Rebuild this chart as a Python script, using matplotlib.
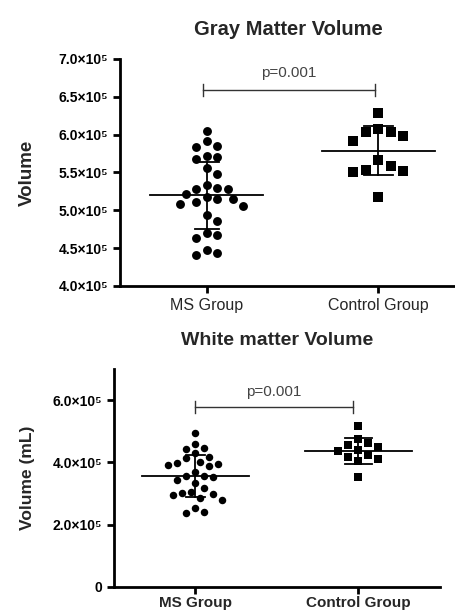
import numpy as np
import matplotlib
matplotlib.use("Agg")
from matplotlib import pyplot as plt

plt.rcParams['font.family'] = ['Liberation Sans', 'DejaVu Sans']

# данные (в единицах 1e5)
groups = ['MS Group', 'Control Group']
gm_ms = [6.05, 5.91, 5.85, 5.84, 5.72, 5.68, 5.71, 5.56, 5.48, 5.33, 5.28, 5.28, 5.30, 5.22,
         5.18, 5.15, 5.09, 5.06, 5.11, 5.15, 4.94, 4.86, 4.67, 4.64, 4.70, 4.48, 4.41, 4.43]
gm_ctrl = [6.28, 6.08, 6.03, 5.98, 6.03, 5.92, 5.66, 5.58, 5.52, 5.53, 5.51, 5.18]
gm_mean = [5.20, 5.79]
gm_sd = [0.445, 0.327]

wm_ms = [4.95, 4.59, 4.43, 4.29, 4.45, 4.18, 4.14, 4.01, 3.95, 3.89, 3.91, 3.98, 3.70, 3.57,
         3.55, 3.52, 3.42, 3.33, 3.18, 3.02, 2.99, 2.85, 2.78, 2.94, 3.05, 2.52, 2.36, 2.41]
wm_ctrl = [5.16, 4.75, 4.63, 4.50, 4.55, 4.35, 4.40, 4.22, 4.12, 4.05, 4.17, 3.53]
wm_mean = [3.57, 4.36]
wm_sd = [0.68, 0.43]

p_text = 'p=0.001'
SCALE = 1e5
TXT = '#262626'


def swarm_offsets(ax, x0, values, diam):
    # раскладка точек "рой" в пикселях, возвращаем смещения по x в единицах оси
    pts = ax.transData.transform([(x0, v) for v in values])
    xpx = ax.transData.transform([(x0 + 1, 0)])[0][0] - ax.transData.transform([(x0, 0)])[0][0]
    ys = pts[:, 1]
    step = diam * 0.5
    cands = [0.0]
    for n in range(1, 30):
        cands += [n * step, -n * step]
    placed = []
    offs = np.zeros(len(values))
    for i in np.argsort(-ys):
        for c in cands:
            if all((c - px) ** 2 + (ys[i] - py) ** 2 >= diam ** 2 for px, py in placed):
                break
        placed.append((c, ys[i]))
        offs[i] = c / xpx
    return offs


def panel(ax, ms, ctrl, mean, sd, sizes, caps, ptxt_y, br_y, br_cap, br_x):
    for i, (vals, mk, ms_size, diam) in enumerate([(ms, 'o', sizes[0], sizes[1]),
                                                   (ctrl, 's', sizes[2], sizes[3])]):
        v = np.array(vals) * SCALE
        offs = swarm_offsets(ax, i, v, diam)
        ax.plot(i + offs, v, linestyle='none', marker=mk, markersize=ms_size,
                color='black', markeredgewidth=0, zorder=3)
        m = mean[i] * SCALE
        s = sd[i] * SCALE
        ax.plot([i - 0.33, i + 0.33], [m, m], color='black', lw=1.3, zorder=4)
        ax.plot([i, i], [m - s, m + s], color='black', lw=1.3, zorder=4)
        for e in (m - s, m + s):
            ax.plot([i - caps[i], i + caps[i]], [e, e], color='black', lw=1.3, zorder=4)
    # скобка значимости
    y = br_y * SCALE
    c = br_cap * SCALE
    ax.plot([br_x[0], br_x[1]], [y, y], color='#333333', lw=1.0)
    for xx in br_x:
        ax.plot([xx, xx], [y - c, y + c], color='#333333', lw=1.0)
    ax.text((br_x[0] + br_x[1]) / 2, ptxt_y * SCALE, p_text, ha='center', va='center',
            fontsize=11, color='#444444')

    ax.set_xticks([0, 1])
    for side in ('top', 'right'):
        ax.spines[side].set_visible(False)
    for side in ('left', 'bottom'):
        ax.spines[side].set_linewidth(2.0)
    ax.tick_params(axis='both', length=5, width=2.0, colors='black')


def fmt(v):
    if v == 0:
        return '0'
    return f'{v:.1f}×10⁵'


fig = plt.figure(figsize=(4.56, 6.12), dpi=100)

# верхний график
ax1 = fig.add_axes([120 / 456, 1 - 286 / 612, 336 / 456, 227 / 612])
ax1.set_xlim(-0.505, 1.453)
ax1.set_ylim(4.0 * SCALE, 7.0 * SCALE)
gm_ticks = [4.0, 4.5, 5.0, 5.5, 6.0, 6.5, 7.0]
ax1.set_yticks([t * SCALE for t in gm_ticks])
ax1.set_yticklabels([fmt(t) for t in gm_ticks], fontsize=10, fontweight='bold', color='#333333')
panel(ax1, gm_ms, gm_ctrl, gm_mean, gm_sd, (6.4, 10.5, 7.2, 12.5), (0.07, 0.085),
      6.81, 6.59, 0.077, (-0.02, 0.98))
ax1.set_xticklabels(groups, fontsize=11.5, color=TXT)
ax1.set_ylabel('Volume', fontsize=13.5, fontweight='bold', color=TXT, labelpad=16)
ax1.set_title('Gray Matter Volume', fontsize=14.5, fontweight='bold', color=TXT, pad=17)

# нижний график
ax2 = fig.add_axes([114 / 456, 1 - 586.7 / 612, 326 / 456, 217.7 / 612])
ax2.set_xlim(-0.5, 1.5)
ax2.set_ylim(0, 7.0 * SCALE)
wm_ticks = [0, 2.0, 4.0, 6.0]
ax2.set_yticks([t * SCALE for t in wm_ticks])
ax2.set_yticklabels([fmt(t) for t in wm_ticks], fontsize=10, fontweight='bold', color='#333333')
panel(ax2, wm_ms, wm_ctrl, wm_mean, wm_sd, (5.4, 9.0, 6.2, 10.0), (0.06, 0.085),
      6.27, 5.78, 0.19, (0.0, 0.965))
ax2.set_xticklabels(groups, fontsize=11, fontweight='bold', color=TXT)
ax2.tick_params(axis='x', pad=1.5)
ax2.set_ylabel('Volume (mL)', fontsize=12.5, fontweight='bold', color=TXT, labelpad=13)
ax2.set_title('White matter Volume', fontsize=14, fontweight='bold', color=TXT, pad=17)

fig.savefig('out.png', dpi=100)
